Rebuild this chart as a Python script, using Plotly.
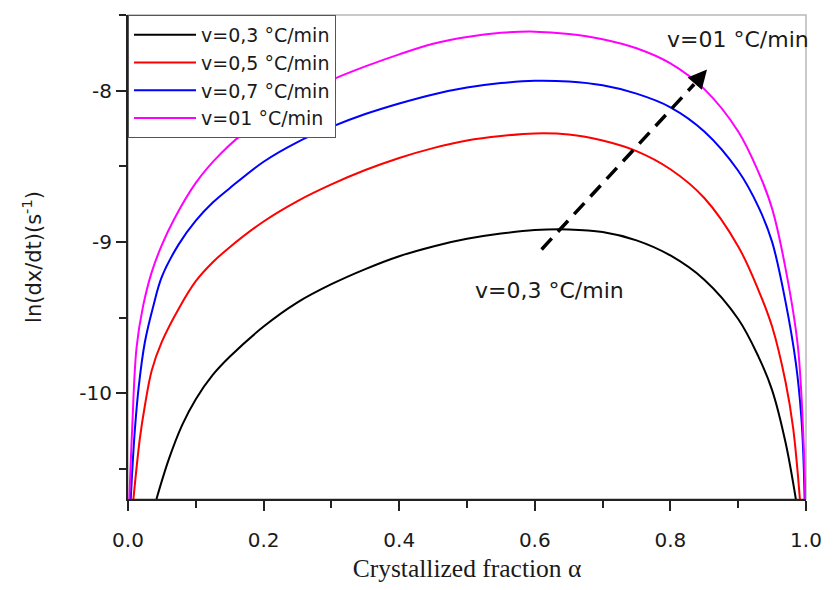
import plotly.graph_objects as go

# ---- data ----
series_names = ["v=0,3 °C/min", "v=0,5 °C/min", "v=0,7 °C/min", "v=01 °C/min"]
series_colors = ["#000000", "#ff0000", "#0000ff", "#ff00ff"]

alpha_03 = [0.042, 0.06, 0.08, 0.10, 0.125, 0.15, 0.20, 0.25, 0.30, 0.35, 0.40, 0.45, 0.50, 0.55, 0.60,
            0.65, 0.70, 0.75, 0.80, 0.85, 0.90, 0.93, 0.95, 0.97, 0.985]
lnr_03 = [-10.70, -10.44, -10.21, -10.04, -9.88, -9.76, -9.56, -9.40, -9.28, -9.18, -9.095, -9.03, -8.98, -8.945, -8.922,
          -8.918, -8.935, -8.99, -9.09, -9.25, -9.51, -9.76, -9.98, -10.33, -10.70]

alpha_05 = [0.008, 0.0175, 0.025, 0.035, 0.05, 0.075, 0.10, 0.125, 0.15, 0.20, 0.25, 0.30, 0.35, 0.40, 0.45, 0.50, 0.55, 0.60,
            0.65, 0.70, 0.75, 0.80, 0.85, 0.90, 0.93, 0.95, 0.97, 0.981, 0.991]
lnr_05 = [-10.70, -10.30, -10.08, -9.85, -9.66, -9.44, -9.26, -9.135, -9.035, -8.865, -8.73, -8.62, -8.525, -8.445, -8.38, -8.33, -8.30, -8.283,
          -8.29, -8.33, -8.40, -8.52, -8.71, -9.03, -9.32, -9.56, -9.93, -10.23, -10.70]

alpha_07 = [0.004, 0.010, 0.016, 0.025, 0.037, 0.05, 0.075, 0.10, 0.125, 0.15, 0.20, 0.25, 0.30, 0.35, 0.40, 0.45, 0.50, 0.55, 0.60,
            0.65, 0.70, 0.75, 0.80, 0.85, 0.90, 0.93, 0.95, 0.97, 0.985, 0.993, 0.996, 0.998]
lnr_07 = [-10.70, -10.25, -9.95, -9.66, -9.43, -9.23, -9.015, -8.86, -8.74, -8.645, -8.47, -8.34, -8.24, -8.155, -8.085, -8.025, -7.98, -7.95, -7.935,
          -7.94, -7.965, -8.02, -8.11, -8.27, -8.53, -8.77, -9.00, -9.40, -9.80, -10.15, -10.40, -10.70]

alpha_10 = [0.002, 0.006, 0.0126, 0.022, 0.035, 0.05, 0.068, 0.10, 0.136, 0.182, 0.25, 0.30, 0.35, 0.40, 0.45, 0.50, 0.55, 0.60,
            0.65, 0.70, 0.75, 0.80, 0.85, 0.90, 0.93, 0.95, 0.97, 0.988, 0.9966, 0.999]
lnr_10 = [-10.70, -10.25, -9.70, -9.43, -9.20, -9.02, -8.85, -8.61, -8.42, -8.24, -8.04, -7.93, -7.84, -7.76, -7.69, -7.645, -7.618, -7.61,
          -7.625, -7.66, -7.72, -7.82, -7.99, -8.27, -8.54, -8.78, -9.18, -9.69, -10.34, -10.70]

x_tick_vals = [0.0, 0.2, 0.4, 0.6, 0.8, 1.0]
x_tick_text = ["0.0", "0.2", "0.4", "0.6", "0.8", "1.0"]
y_tick_vals = [-10, -9, -8]
y_tick_text = ["-10", "-9", "-8"]

arrow_start = (0.610, -9.05)
arrow_base = (0.835, -7.958)
arrow_tip = (0.854, -7.86)
label_low = ("v=0,3 °C/min", 0.621, -9.32)
label_high = ("v=01 °C/min", 0.899, -7.66)

# ---- figure ----
fig = go.Figure()
for name, color, xs, ys in zip(series_names, series_colors,
                               [alpha_03, alpha_05, alpha_07, alpha_10],
                               [lnr_03, lnr_05, lnr_07, lnr_10]):
    fig.add_trace(go.Scatter(x=xs, y=ys, mode="lines", name=name,
                             line=dict(color=color, width=2, shape="spline", smoothing=1.0)))

sans = "DejaVu Sans, Arial, sans-serif"

fig.add_shape(type="rect", xref="paper", yref="paper", x0=0, y0=0, x1=1, y1=1,
              line=dict(color="#b8b8b8", width=1.5), layer="below")

# dashed arrow: dashed shaft + solid arrow head
fig.add_shape(type="line", xref="x", yref="y",
              x0=arrow_start[0], y0=arrow_start[1], x1=arrow_base[0], y1=arrow_base[1],
              line=dict(color="black", width=3.5, dash="15px,9px"))
fig.add_annotation(x=arrow_tip[0], y=arrow_tip[1], ax=arrow_base[0], ay=arrow_base[1],
                   xref="x", yref="y", axref="x", ayref="y", text="", showarrow=True,
                   arrowhead=2, arrowsize=1.25, arrowwidth=3, arrowcolor="black", standoff=0)

for txt, xx, yy in [label_low, label_high]:
    fig.add_annotation(x=xx, y=yy, xref="x", yref="y", text=txt, showarrow=False,
                       font=dict(family=sans, size=22, color="#1a1a1a"))

fig.update_layout(
    width=834, height=590,
    margin=dict(l=128, r=19, t=15, b=82),
    paper_bgcolor="white", plot_bgcolor="white",
    showlegend=True,
    legend=dict(x=0, y=1, xanchor="left", yanchor="top", bgcolor="white",
                bordercolor="#555555", borderwidth=1, itemwidth=62,
                font=dict(family=sans, size=19, color="#1a1a1a"), tracegroupgap=0),
    font=dict(family=sans, color="#1a1a1a"),
)

fig.update_xaxes(range=[0, 1], tickvals=x_tick_vals, ticktext=x_tick_text,
                 showgrid=False, zeroline=False, showline=True, linecolor="#222222", linewidth=2,
                 ticks="outside", ticklen=10, tickwidth=2, tickcolor="#222222",
                 tickfont=dict(family=sans, size=20), ticklabelstandoff=12,
                 minor=dict(dtick=0.1, tick0=0, ticks="outside", ticklen=7, tickwidth=2, tickcolor="#222222"),
                 title=dict(text="Crystallized fraction α", standoff=8,
                            font=dict(family="Liberation Serif, Times New Roman, serif", size=25.5)))
fig.update_yaxes(range=[-10.7, -7.5], tickvals=y_tick_vals, ticktext=y_tick_text,
                 showgrid=False, zeroline=False, showline=True, linecolor="#222222", linewidth=2,
                 ticks="outside", ticklen=10, tickwidth=2, tickcolor="#222222",
                 tickfont=dict(family=sans, size=20),
                 minor=dict(dtick=0.5, tick0=-10.5, ticks="outside", ticklen=7, tickwidth=2, tickcolor="#222222"),
                 title=dict(text="ln(dx/dt)(s<sup>-1</sup>)", standoff=32,
                            font=dict(family=sans, size=21)))

fig.write_html("out.html")
